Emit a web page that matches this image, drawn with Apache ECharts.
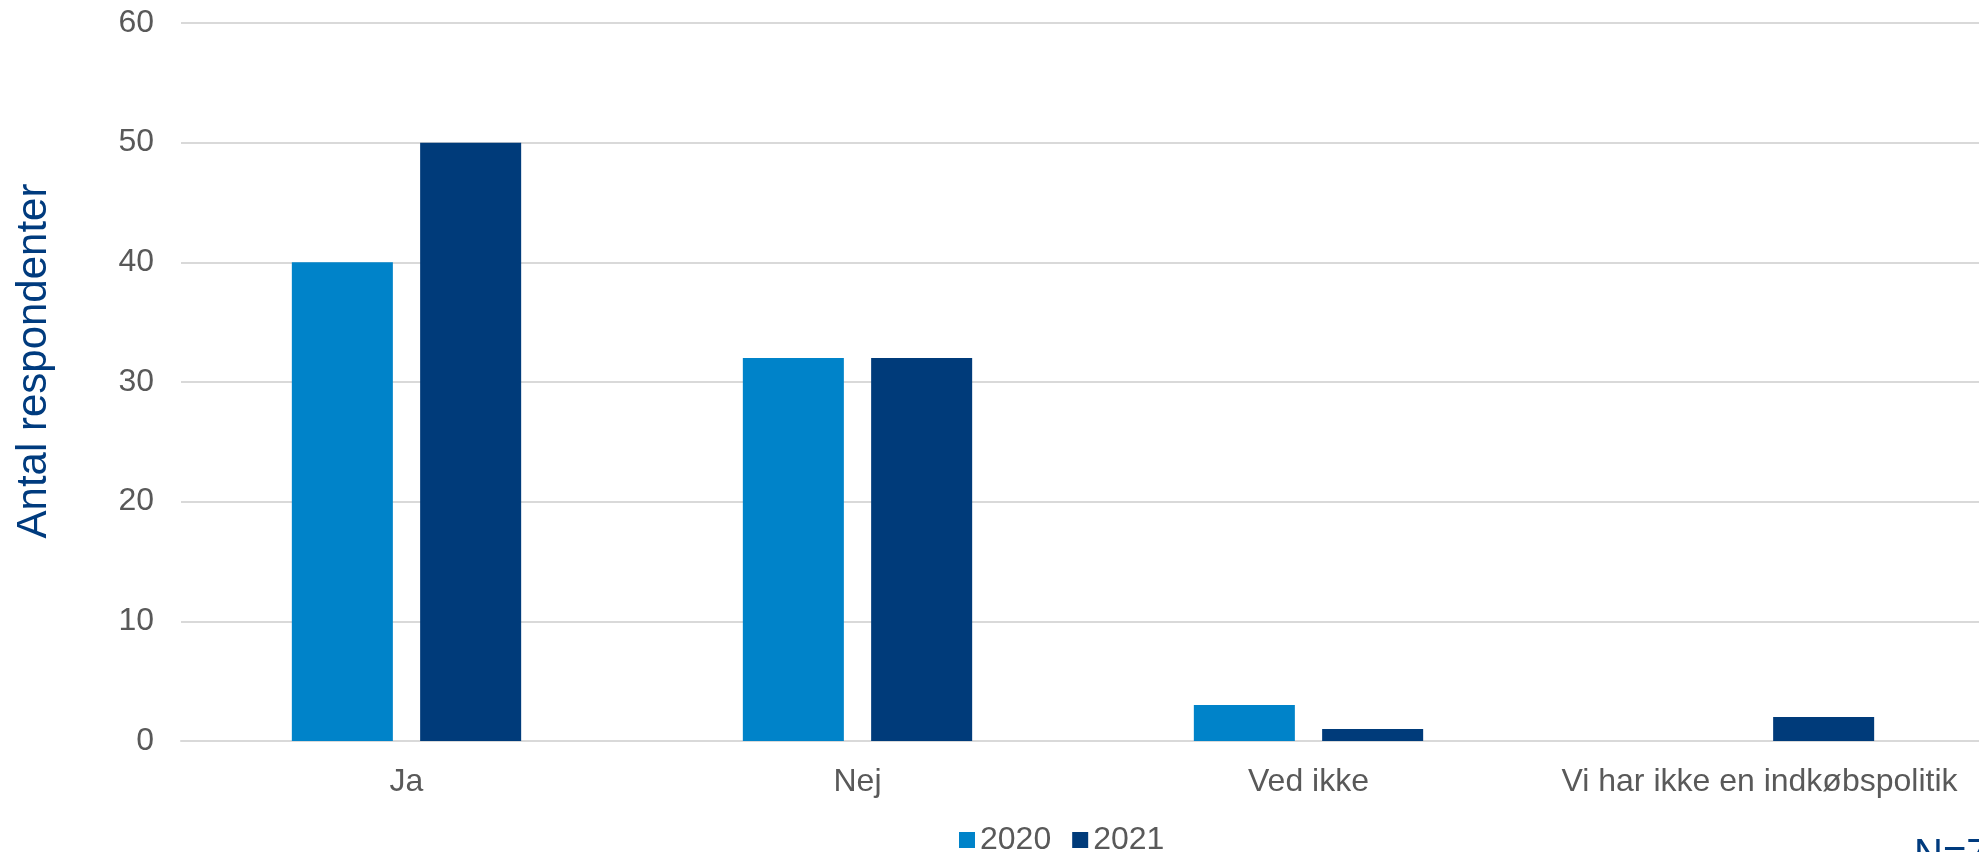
<!DOCTYPE html>
<html>
<head>
    <meta charset="utf-8">
    <title>Indkøbspolitik</title>
    <script src="https://cdn.jsdelivr.net/npm/echarts@6/dist/echarts.min.js"></script>
    <style>
        html, body { margin: 0; padding: 0; background: #fff; overflow: hidden; }
        /* the plot runs past the right edge of the picture, so the canvas is a bit wider than the window */
        #main { width: 1985px; height: 852px; }
    </style>
</head>
<body>
<div id="main"></div>
<script type="text/javascript">
    // data
    var categories = ['Ja', 'Nej', 'Ved ikke', 'Vi har ikke en indkøbspolitik'];
    var years = ['2020', '2021'];
    var values2020 = [40, 32, 3, 0];
    var values2021 = [50, 32, 1, 2];
    var yTicks = { min: 0, max: 60, interval: 10 };

    var colors = ['#0083c9', '#003b7a'];
    var grey = '#595959';
    var font = 'Liberation Sans, Arial, sans-serif';

    var chart = echarts.init(document.getElementById('main'));

    chart.setOption({
        backgroundColor: '#ffffff',
        animation: false,
        grid: {
            left: 181,
            right: 0,
            top: 23,
            bottom: 111,
            containLabel: false
        },
        legend: {
            data: years,
            left: 954,
            top: 819,
            itemWidth: 16,
            itemHeight: 16,
            itemGap: 21,
            icon: 'rect',
            textStyle: {
                color: grey,
                fontSize: 32,
                fontFamily: font
            }
        },
        xAxis: {
            type: 'category',
            data: categories,
            axisLine: { lineStyle: { color: '#d9d9d9', width: 2 } },
            axisTick: { show: false },
            axisLabel: {
                color: grey,
                fontSize: 32,
                fontFamily: font,
                margin: 25,
                interval: 0
            }
        },
        yAxis: {
            type: 'value',
            min: yTicks.min,
            max: yTicks.max,
            interval: yTicks.interval,
            name: 'Antal respondenter',
            nameLocation: 'middle',
            nameGap: 126,
            nameTextStyle: {
                color: '#003b7e',
                fontSize: 42,
                fontFamily: font,
                padding: [0, 0, 0, 42]
            },
            axisLine: { show: false },
            axisTick: { show: false },
            splitLine: { lineStyle: { color: '#d9d9d9', width: 2 } },
            axisLabel: {
                color: grey,
                fontSize: 32,
                fontFamily: font,
                margin: 27
            }
        },
        series: [
            {
                name: years[0],
                type: 'bar',
                data: values2020,
                barWidth: '22.4%',
                barGap: '27%',
                itemStyle: { color: colors[0] }
            },
            {
                name: years[1],
                type: 'bar',
                data: values2021,
                barWidth: '22.4%',
                barGap: '27%',
                itemStyle: { color: colors[1] }
            }
        ],
        graphic: [
            {
                type: 'text',
                left: 1914,
                top: 836,
                style: {
                    text: 'N=75',
                    fill: '#003b7e',
                    font: '40px ' + font
                }
            }
        ]
    });
</script>
</body>
</html>
